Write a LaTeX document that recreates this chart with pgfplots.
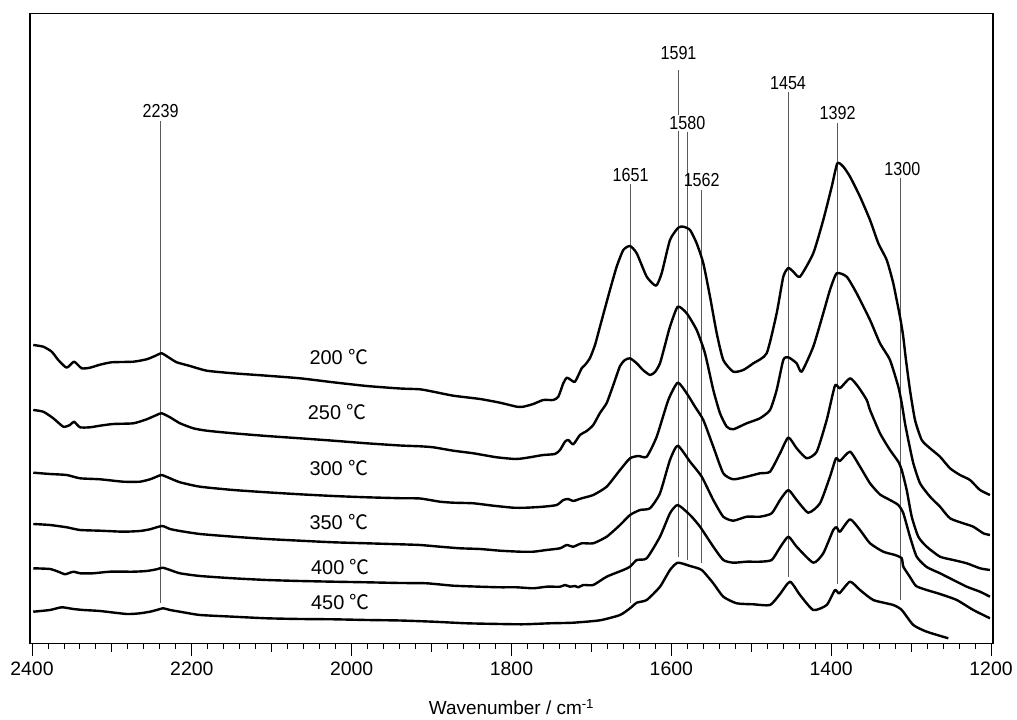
\documentclass[border=0pt]{standalone}
\usepackage{fontspec}
\setmainfont{Liberation Sans}
\newfontfamily\cjk{Noto Sans CJK SC}
\usepackage{pgfplots}
\pgfplotsset{compat=1.18}
\newcommand{\pk}[1]{\scalebox{0.9}[1.05]{#1}}
\tikzset{
  peaklabel/.style={font=\fontsize{18}{20}\selectfont, inner sep=1bp},
  templabel/.style={font=\fontsize{20}{22}\selectfont, anchor=west, inner sep=0pt},
}
\pgfplotsset{
  peak/.style={gray!70!black, line width=0.8bp},
  spec/.style={black, line width=2.4bp, smooth, tension=0.35, line join=round},
}
\begin{document}
\begin{tikzpicture}[x=1bp,y=1bp]
\path[use as bounding box] (0,0) rectangle (1017,720);
\begin{axis}[
  at={(30bp,76.5bp)}, anchor=south west,
  scale only axis, width=963bp, height=630bp,
  x dir=reverse, xmin=1197.5, xmax=2402.5,
  ymin=76.5, ymax=706.5,
  ytick=\empty,
  xtick={1200,1400,...,2400},
  minor x tick num=9,
  extra x ticks={1300,1500,...,2300},
  extra x tick labels={},
  extra x tick style={major tick length=9bp},
  xtick pos=left,
  tick align=outside,
  major tick length=12.7bp,
  minor tick length=5.3bp,
  every tick/.style={black, line width=0.9bp},
  axis line style={line width=1.2bp},
  /pgf/number format/assume math mode=true,
  /pgf/number format/set thousands separator={},
  xticklabel style={font=\fontsize{19.5}{21}\selectfont, yshift=-2bp},
  xlabel={Wavenumber / cm\textsuperscript{-1}},
  xlabel style={font=\fontsize{19}{21}\selectfont, yshift=5bp},
  clip=true,
  every axis plot/.append style={no markers},
]
% peak marker lines
\addplot[peak] coordinates {(2239,117) (2239,599)};
\addplot[peak] coordinates {(1651,117) (1651,536)};
\addplot[peak] coordinates {(1591,163) (1591,650)};
\addplot[peak] coordinates {(1580,160) (1580,588)};
\addplot[peak] coordinates {(1562,157) (1562,530)};
\addplot[peak] coordinates {(1454,143) (1454,628)};
\addplot[peak] coordinates {(1392,136) (1392,597)};
\addplot[peak] coordinates {(1313,120) (1313,542)};

% 200 C
\addplot[spec] coordinates {
(2398.4,375) (2385.9,373.3) (2375.3,368.3) (2367.1,360) (2356.6,352.3) (2347.4,358.3) (2337.8,351.7) (2327.4,352.3) (2314.9,355.3) (2300.3,357.7) (2273.2,358.3) (2256.5,360.7) (2246.1,364) (2237.7,366.7) (2227.3,361.7) (2218.9,357.7) (2202.3,354) (2181.4,349.3) (2148.1,346.7) (2106.3,344.3) (2064.7,341.7) (2023.0,337.7) (1981.2,334) (1939.5,331.5) (1914.5,330.7) (1897.9,328.3) (1872.8,324.3) (1839.4,321) (1814.4,317.3) (1793.5,313.3) (1785.2,313.3) (1772.7,316) (1760.2,320) (1747.7,320) (1741.4,323.3) (1735.2,336.7) (1730.9,342.3) (1726.8,340.7) (1720.5,338.3) (1712.2,351.7) (1708.0,355) (1701.8,362) (1695.5,375) (1689.3,393.3) (1676.8,430) (1668.4,453.3) (1660.1,470) (1651.7,474) (1643.3,466.7) (1630.8,443.3) (1619.2,434.3) (1612.1,446.7) (1601.7,480) (1591.3,492.3) (1585.0,493.3) (1576.6,490) (1568.3,476.7) (1560.0,456.7) (1551.6,423.3) (1543.2,386.7) (1535.0,360) (1522.5,348.3) (1510.0,350) (1497.4,356.7) (1480.7,366.7) (1468.2,406.7) (1459.9,443.3) (1453.6,452) (1447.4,448.3) (1439.0,443.3) (1422.4,466.7) (1409.9,500) (1399.3,533.3) (1392.3,556.7) (1384.8,553.3) (1376.4,543.3) (1363.9,523.3) (1351.4,500) (1341.0,476.7) (1330.5,460) (1322.3,436.7) (1313.9,403.3) (1310.1,385) (1306.4,360) (1301.4,330) (1295.1,300) (1286.7,280) (1276.3,271.7) (1263.8,263.3) (1251.3,251.7) (1238.8,245) (1226.3,240) (1213.8,230) (1201.3,225)};
% 250 C
\addplot[spec] coordinates {
(2398.4,310) (2385.9,308.3) (2373.3,301.7) (2360.8,293.3) (2352.5,295) (2347.4,298.3) (2339.9,292.7) (2327.4,292.7) (2314.9,294.3) (2298.3,296) (2273.2,296.7) (2256.5,300.7) (2244.0,305) (2237.7,306.7) (2227.3,302.7) (2214.8,296.7) (2198.2,291.7) (2181.4,289.3) (2148.1,286.7) (2106.3,284) (2064.7,281.7) (2023.0,279.3) (1981.2,276.7) (1939.5,274.5) (1914.5,273.7) (1897.9,272.7) (1872.8,269.3) (1847.8,266.7) (1818.5,262.7) (1795.6,261) (1785.2,261.7) (1772.7,263.3) (1760.2,265) (1745.6,266) (1739.3,270) (1733.1,278.3) (1728.9,280) (1722.7,275.7) (1714.3,285) (1705.9,289) (1697.7,295) (1689.3,307) (1680.9,317) (1672.6,335) (1664.2,354) (1658.0,360) (1651.7,361.7) (1643.3,356.7) (1635.5,350) (1626.7,345) (1620.4,348) (1614.2,356.7) (1607.9,375) (1601.7,393.3) (1592.0,413.3) (1580.8,406.7) (1568.3,390) (1557.9,366.7) (1547.5,330) (1539.1,306.7) (1530.7,293.3) (1522.5,290.7) (1505.7,296.7) (1489.1,301.7) (1476.5,310) (1468.2,330) (1459.9,360) (1453.6,362.7) (1443.2,356.7) (1436.9,348.3) (1422.4,373.3) (1409.9,406.7) (1401.5,430) (1393.1,446.7) (1380.6,443.3) (1368.1,426.7) (1351.4,400) (1338.9,376.7) (1326.4,360) (1316.0,333.3) (1311.7,316.7) (1307.6,296.7) (1303.5,280) (1297.2,256.7) (1288.8,236.7) (1276.3,223.3) (1263.8,213.3) (1251.3,201.7) (1234.7,196.7) (1222.2,193.3) (1209.6,186.7) (1201.3,185)};
% 300 C
\addplot[spec] coordinates {
(2398.4,247.3) (2377.5,246) (2356.6,245) (2339.9,241.7) (2314.9,240.7) (2285.8,238.3) (2264.9,238.3) (2252.3,240.7) (2244.0,243.3) (2237.7,245) (2227.3,241.7) (2214.8,237.7) (2189.8,233.3) (2148.1,230) (2106.3,227.7) (2064.7,225.7) (2023.0,224) (1981.2,222.7) (1939.5,221.8) (1914.5,221.5) (1889.5,218.3) (1872.8,217.3) (1847.8,216.7) (1822.8,214.3) (1797.8,212.3) (1781.0,212.3) (1760.2,213.3) (1743.4,215) (1735.2,220) (1728.9,221) (1722.7,219) (1712.2,221.7) (1697.7,225) (1680.9,233.3) (1664.2,250) (1651.7,261.7) (1641.3,264) (1630.8,263.3) (1618.3,283.3) (1603.8,320) (1592.0,337.3) (1580.8,326.7) (1570.4,313.3) (1560.0,300) (1547.5,273.3) (1535.0,246.7) (1522.5,240.7) (1505.7,243.3) (1489.1,246.7) (1476.5,248.3) (1464.0,266.7) (1453.6,282.5) (1443.2,271.7) (1430.6,261.7) (1418.1,268.3) (1405.6,300) (1395.2,334.5) (1389.0,331.7) (1376.4,341.7) (1366.0,333) (1355.5,320) (1351.4,310) (1338.9,286.7) (1326.4,270) (1316.0,258.3) (1311.7,250) (1305.5,230) (1299.2,203.3) (1291.0,183.3) (1280.5,173.3) (1263.8,163.3) (1247.2,160) (1230.4,156.7) (1213.8,151.7) (1201.3,150)};
% 350 C
\addplot[spec] coordinates {
(2398.4,196) (2377.5,195) (2356.6,192.7) (2339.9,190) (2314.9,189.3) (2285.8,188.3) (2264.9,189) (2252.3,190.7) (2244.0,192.7) (2236.5,194) (2227.3,191) (2214.8,189) (2189.8,186) (2148.1,183.3) (2106.3,181) (2064.7,179.3) (2023.0,177.7) (1981.2,176.7) (1939.5,175.7) (1914.5,175) (1889.5,173.3) (1864.4,171.7) (1839.4,171) (1814.4,169.3) (1789.4,168.3) (1772.7,168.3) (1756.0,170) (1739.3,171.7) (1730.9,175) (1722.7,173.3) (1712.2,176.7) (1697.7,176.7) (1680.9,183.3) (1664.2,195) (1651.7,205) (1639.2,210) (1626.7,211.7) (1614.2,226.7) (1601.7,260) (1592.0,274.3) (1576.6,258.3) (1562.0,243.3) (1547.5,220) (1535.0,203.3) (1522.5,199.3) (1505.7,203.3) (1489.1,203.3) (1474.4,206.7) (1464.0,220) (1453.6,230) (1443.2,220) (1428.6,207.3) (1414.0,216.7) (1401.5,243.3) (1394.0,261.7) (1389.0,259) (1376.4,268.3) (1363.9,253.3) (1351.4,236.7) (1338.9,225.5) (1326.4,220) (1316.0,215) (1309.7,206.7) (1301.4,183.3) (1293.0,163.3) (1280.5,153) (1263.8,146.7) (1247.2,140) (1230.4,133.3) (1213.8,128.3) (1201.3,123.3)};
% 400 C
\addplot[spec] coordinates {
(2398.4,151.7) (2377.5,151) (2367.1,148.3) (2358.7,145.7) (2352.5,147.3) (2347.4,148.3) (2339.9,146.7) (2323.3,146.7) (2302.4,148.3) (2273.2,148.3) (2256.5,149) (2244.0,150.7) (2236.5,152.3) (2227.3,150) (2214.8,146.7) (2189.8,144) (2148.1,141.7) (2106.3,140) (2064.7,139) (2023.0,138.3) (1981.2,137.7) (1939.5,137) (1906.1,136.7) (1872.8,134.3) (1839.4,133.3) (1814.4,132.7) (1793.5,132.7) (1772.7,131.7) (1756.0,133.3) (1739.3,133.3) (1733.1,135) (1726.8,133.3) (1720.5,134) (1716.4,132.7) (1710.2,135) (1697.7,135) (1680.9,143.3) (1660.1,150) (1651.7,153.3) (1643.3,160) (1630.8,161.7) (1614.2,183.3) (1601.7,206.7) (1592.0,215) (1576.6,205) (1564.1,193.3) (1547.5,173.3) (1535.0,160) (1522.5,157.3) (1505.7,158.3) (1489.1,158.3) (1474.4,160) (1464.0,172.5) (1453.6,183.3) (1443.2,173.3) (1422.4,157.3) (1409.9,166.7) (1397.4,190) (1393.1,192.7) (1389.0,188.3) (1376.4,200.7) (1363.9,190) (1351.4,176.7) (1334.8,168.3) (1320.1,165) (1311.7,161.7) (1309.7,153.3) (1301.4,143) (1293.8,134) (1280.5,130) (1263.8,126) (1242.9,120) (1222.2,110) (1201.3,101.7)};
% 450 C
\addplot[spec] coordinates {
(2398.4,108.3) (2377.5,110) (2362.8,112.7) (2348.3,111) (2335.8,110) (2314.9,109) (2281.5,106) (2264.9,106.7) (2252.3,108.3) (2244.0,110) (2235.7,111.7) (2227.3,110) (2210.7,107.7) (2189.8,105) (2148.1,103.3) (2106.3,101.7) (2064.7,101) (2023.0,100.7) (1981.2,100) (1939.5,99.5) (1897.9,98.3) (1856.1,96.7) (1814.4,96) (1785.2,95.7) (1751.8,96.7) (1722.7,97.3) (1689.3,99.7) (1664.2,105) (1651.7,111.7) (1643.3,117.3) (1630.8,120) (1614.2,133.3) (1601.7,150) (1592.0,157.3) (1576.6,154) (1562.0,150) (1547.5,136.7) (1535.0,123.3) (1518.2,116.7) (1497.4,115.7) (1476.5,115) (1464.0,126) (1451.5,138.3) (1439.0,125) (1422.4,110) (1405.6,115) (1395.2,130) (1389.8,126.7) (1376.4,138.3) (1363.9,130) (1347.3,120) (1322.3,115) (1311.7,110) (1297.2,95) (1280.5,88.3) (1253.4,81.7)};

% peak labels
\node[peaklabel] at (axis cs:2239,609) {\pk{2239}};
\node[peaklabel] at (axis cs:1651,545) {\pk{1651}};
\node[peaklabel] at (axis cs:1591,667) {\pk{1591}};
\node[peaklabel, fill=white, inner sep=1.5bp] at (axis cs:1580,597) {\pk{1580}};
\node[peaklabel] at (axis cs:1562,540) {\pk{1562}};
\node[peaklabel] at (axis cs:1454,637) {\pk{1454}};
\node[peaklabel] at (axis cs:1392,607) {\pk{1392}};
\node[peaklabel] at (axis cs:1311,551) {\pk{1300}};

% temperature labels
\node[templabel] at (axis cs:2053,363.3) {200 {\cjk ℃}};
\node[templabel] at (axis cs:2055,308.3) {250 {\cjk ℃}};
\node[templabel] at (axis cs:2053,251.7) {300 {\cjk ℃}};
\node[templabel] at (axis cs:2053,197.5) {350 {\cjk ℃}};
\node[templabel] at (axis cs:2051,152.7) {400 {\cjk ℃}};
\node[templabel] at (axis cs:2051,117.7) {450 {\cjk ℃}};

\draw[line width=2.5bp] (rel axis cs:1,0) -- (rel axis cs:1,1);
\end{axis}
\end{tikzpicture}
\end{document}
